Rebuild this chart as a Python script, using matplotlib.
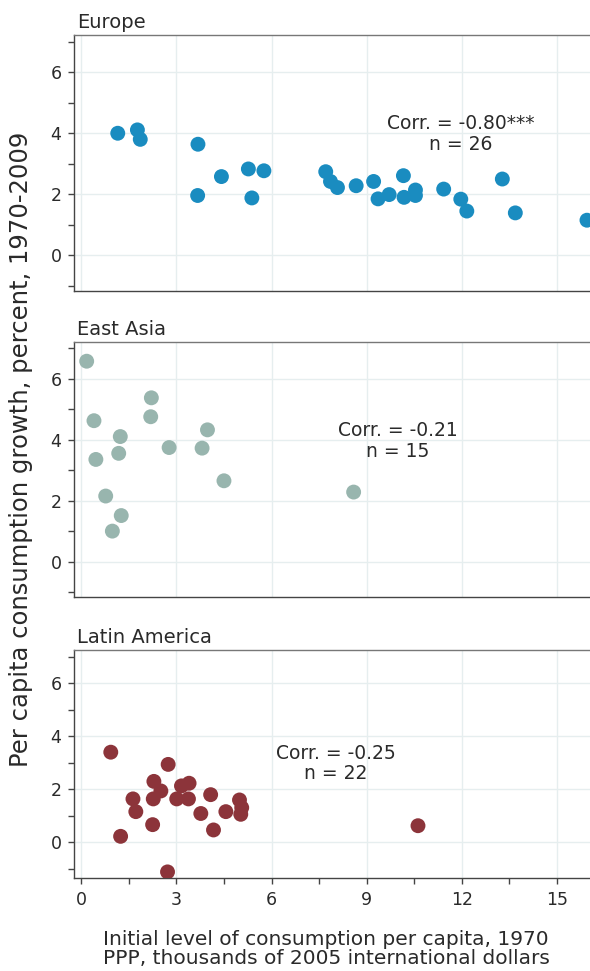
import numpy as np
import matplotlib
matplotlib.use("Agg")
import matplotlib.pyplot as plt
from matplotlib.ticker import MultipleLocator

plt.rcParams['font.family'] = ['DejaVu Sans']

# data (x: consumption per capita 1970, y: growth 1970-2009)
europe_x = [1.15, 1.77, 1.86, 3.68, 3.67, 4.42, 5.27, 5.38, 5.76, 7.71, 7.86, 8.08, 8.67,
            9.22, 9.36, 9.71, 10.16, 10.18, 10.54, 10.54, 11.43, 11.97, 12.16, 13.28, 13.69, 15.95]
europe_y = [4.00, 4.11, 3.80, 3.64, 1.96, 2.58, 2.83, 1.88, 2.77, 2.74, 2.42, 2.22, 2.28,
            2.42, 1.85, 1.99, 2.61, 1.90, 2.14, 1.96, 2.17, 1.84, 1.45, 2.50, 1.39, 1.15]

asia_x = [0.17, 0.40, 0.46, 0.77, 0.98, 1.26, 1.18, 1.23, 2.19, 2.21, 2.77, 3.81, 3.98, 4.50, 8.59]
asia_y = [6.58, 4.63, 3.36, 2.16, 1.01, 1.52, 3.56, 4.11, 4.76, 5.38, 3.75, 3.73, 4.33, 2.66, 2.29]

latam_x = [0.93, 2.74, 2.29, 1.63, 1.72, 2.27, 2.51, 2.25, 3.16, 3.40, 3.01,
           3.38, 4.08, 3.77, 4.17, 4.56, 4.99, 5.06, 5.03, 1.24, 2.72, 10.62]
latam_y = [3.40, 2.94, 2.30, 1.64, 1.16, 1.64, 1.94, 0.67, 2.13, 2.23, 1.64,
           1.64, 1.80, 1.09, 0.47, 1.16, 1.60, 1.31, 1.06, 0.23, -1.11, 0.63]

regions = ["Europe", "East Asia", "Latin America"]
colors = ["#1a8cc0", "#98b5ae", "#8c343a"]
notes = ["Corr. = -0.80***\nn = 26", "Corr. = -0.21\nn = 15", "Corr. = -0.25\nn = 22"]
note_pos = [(11.98, 3.98), (9.99, 3.97), (8.02, 2.98)]
xs = [europe_x, asia_x, latam_x]
ys = [europe_y, asia_y, latam_y]

# panel layout in pixels (left, top, right, bottom) and y limits
W, H = 590, 971
boxes = [(74, 35, 593, 291), (74, 342, 593, 597), (74, 650, 593, 878)]
ylims = [(-1.17, 7.22), (-1.15, 7.21), (-1.34, 7.25)]

fig = plt.figure(figsize=(W / 100, H / 100), dpi=100)
txt = "#2a2a2a"

for i in range(3):
    l, t, r, b = boxes[i]
    ax = fig.add_axes([l / W, 1 - b / H, (r - l) / W, (b - t) / H])
    ax.scatter(xs[i], ys[i], s=115, color=colors[i], edgecolors="none", zorder=3)
    ax.set_xlim(-0.23, 16.14)
    ax.set_ylim(*ylims[i])

    ax.xaxis.set_major_locator(MultipleLocator(3))
    ax.xaxis.set_minor_locator(MultipleLocator(1.5))
    ax.yaxis.set_major_locator(MultipleLocator(2))
    ax.yaxis.set_minor_locator(MultipleLocator(1))
    ax.set_yticks([0, 2, 4, 6])
    ax.grid(True, which="major", color="#e6eeef", linewidth=1, zorder=0)

    for side in ["left", "bottom", "top", "right"]:
        ax.spines[side].set_color("#444444")
        ax.spines[side].set_linewidth(1)
    ax.spines["top"].set_color("#777777")

    ax.tick_params(axis="y", which="both", direction="out", length=4, width=1,
                   color="#444444", labelsize=12.5, labelcolor=txt, pad=5)
    if i < 2:
        ax.tick_params(axis="x", which="both", bottom=False, labelbottom=False)
    else:
        ax.tick_params(axis="x", which="both", direction="out", length=4, width=1,
                       color="#444444", labelsize=12.5, labelcolor=txt, pad=5)

    ax.text(0.006, 1.0 + 7 / (b - t), regions[i], transform=ax.transAxes,
            ha="left", va="baseline", fontsize=14, color=txt)
    ax.text(note_pos[i][0], note_pos[i][1], notes[i], ha="center", va="center",
            fontsize=13.5, color=txt, linespacing=1.1)

fig.text(21 / W, 1 - 449 / H, "Per capita consumption growth, percent, 1970-2009",
         rotation=90, ha="center", va="center", fontsize=17.5, color=txt)
fig.text(326 / W, 1 - 949 / H,
         "Initial level of consumption per capita, 1970\nPPP, thousands of 2005 international dollars",
         ha="center", va="center", fontsize=14.5, color=txt, linespacing=0.95)

fig.savefig("out.png", dpi=100)
